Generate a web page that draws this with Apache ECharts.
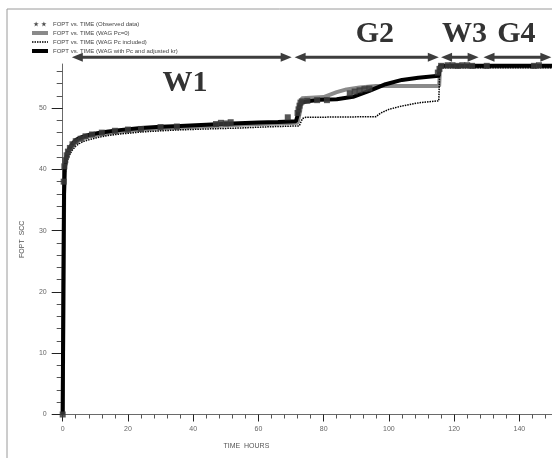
<!DOCTYPE html>
<html>
<head>
<meta charset="utf-8">
<script src="https://cdn.jsdelivr.net/npm/echarts@6/dist/echarts.min.js"></script>
<style>
  html, body { margin: 0; padding: 0; background: #ffffff; }
  #chart { width: 552px; height: 458px; }
</style>
</head>
<body>
<div id="chart"></div>
<script>
// ---- series names ----
const nameObserved = 'FOPT vs. TIME (Observed data)';
const namePc0 = 'FOPT vs. TIME (WAG Pc=0)';
const namePcIncl = 'FOPT vs. TIME (WAG Pc included)';
const namePcKr = 'FOPT vs. TIME (WAG with Pc and adjusted kr)';

// ---- observed production (hours, SCC) ----
const timeObserved = [0, 0.3, 0.5, 0.8, 1.2, 1.6, 2.2, 3, 4, 5.5, 7, 9, 12, 16, 20, 24, 30, 35, 47, 48.5, 50, 51.5, 69,
  72, 72.3, 72.6, 72.9, 73.3, 75, 78, 81, 88, 89.5, 91, 92.5, 94,
  115, 115.5, 116, 118, 119.5, 121, 122.5, 124, 125.5, 130, 144.5, 146];
const foptObserved = [0, 38, 40.5, 41.5, 42.3, 42.9, 43.5, 44.1, 44.6, 45.0, 45.4, 45.7, 46.0, 46.3, 46.5, 46.6, 46.9, 47.0, 47.4, 47.6, 47.5, 47.7, 48.5,
  49.2, 49.8, 50.4, 50.9, 51.1, 51.2, 51.3, 51.3, 52.4, 52.7, 52.9, 53.1, 53.2,
  55.8, 56.4, 56.9, 57.0, 57.0, 56.9, 57.0, 57.0, 56.9, 56.9, 56.9, 57.0];

// ---- WAG Pc=0 ----
const timePc0 = [0, 0.25, 0.45, 0.65, 1, 1.5, 2, 3, 4, 5, 6.5, 8.5, 11, 14, 18, 24, 30, 36, 44, 52, 60, 66, 72,
  72.8, 73.3, 76, 80, 84, 87, 91, 96, 115.4, 115.7, 150];
const foptPc0 = [0, 20, 36, 40, 41.5, 42.5, 43.1, 43.9, 44.5, 44.85, 45.15, 45.45, 45.7, 45.95, 46.2, 46.5, 46.7, 46.85, 47.05, 47.25, 47.4, 47.5, 47.6,
  49.5, 51.6, 51.7, 51.8, 52.6, 53.05, 53.35, 53.6, 53.6, 56.8, 56.8];

// ---- WAG Pc included ----
const timePcIncl = [0, 0.3, 0.55, 0.8, 1.2, 2, 3, 4, 5, 6.5, 8.5, 11, 14, 18, 24, 30, 36, 44, 54, 63, 72.5,
  73.5, 74.5, 85, 96, 97.5, 100, 104, 109, 115.3, 115.6, 150];
const foptPcIncl = [0, 20, 36, 39.5, 41, 42.3, 43.2, 43.8, 44.2, 44.6, 44.9, 45.25, 45.55, 45.8, 46.1, 46.3, 46.45, 46.6, 46.75, 46.95, 47.1,
  48.3, 48.5, 48.55, 48.6, 49.2, 49.8, 50.35, 50.85, 51.2, 56.6, 56.6];

// ---- WAG with Pc and adjusted kr ----
const timePcKr = [0, 0.2, 0.4, 0.6, 1, 1.5, 2, 3, 4, 5, 6.5, 8.5, 11, 14, 18, 24, 30, 36, 44, 52, 60, 66, 71.5,
  72, 72.5, 73.2, 75, 79, 84, 89, 94, 99, 104, 109, 115.3, 115.6, 150];
const foptPcKr = [0, 20, 36, 40, 41.8, 42.8, 43.4, 44.2, 44.8, 45.1, 45.4, 45.7, 45.95, 46.2, 46.45, 46.75, 46.95, 47.1, 47.3, 47.5, 47.65, 47.75, 47.85,
  48.8, 50.3, 50.9, 51.1, 51.35, 51.45, 51.85, 52.8, 53.9, 54.6, 54.95, 55.3, 56.9, 56.9];

// ---- axis ticks ----
const timeMajorTicks = [0, 20, 40, 60, 80, 100, 120, 140];
const timeMinorTicks = [4, 8, 12, 16, 24, 28, 32, 36, 44, 48, 52, 56, 64, 68, 72, 76, 84, 88, 92, 96,
  104, 108, 112, 116, 124, 128, 132, 136, 144, 148];
const foptMajorTicks = [0, 10, 20, 30, 40, 50];
const foptMinorTicks = [2, 4, 6, 8, 12, 14, 16, 18, 22, 24, 26, 28, 32, 34, 36, 38, 42, 44, 46, 48, 52, 54, 56];

// ---- injection periods (hours) ----
const periodNames = ['W1', 'G2', 'W3', 'G4'];
const periodStart = [2.8, 71.1, 116, 129];
const periodEnd = [70.2, 115.3, 127.5, 149.8];

const zip = (xs, ys) => xs.map((x, i) => [x, ys[i]]);

// two small stars for the observed-data legend entry
const twoStars = 'path://M4,0L4.59,1.69L6.38,1.73L4.95,2.81L5.47,4.52L4,3.5L2.53,4.52L3.05,2.81L1.62,1.73L3.41,1.69Z' +
  'M11,0L11.59,1.69L13.38,1.73L11.95,2.81L12.47,4.52L11,3.5L9.53,4.52L10.05,2.81L8.62,1.73L10.41,1.69Z';

const axisGray = '#6a6a6a';
const labelStyle = { fontFamily: 'Liberation Sans', fontSize: 7, color: '#666' };
const noMarker = { color: 'rgba(0,0,0,0)', borderWidth: 0, opacity: 0 };

const chart = echarts.init(document.getElementById('chart'), null, { renderer: 'canvas' });

const option = {
  animation: false,
  backgroundColor: '#ffffff',
  grid: { left: 62.7, right: -1, top: 64, bottom: 43.5, containLabel: false },
  legend: {
    orient: 'vertical',
    left: 30,
    top: 20.5,
    padding: 0,
    itemGap: 2,
    itemWidth: 16,
    itemHeight: 5,
    textStyle: { fontFamily: 'Liberation Sans', fontSize: 6, lineHeight: 7, color: '#444' },
    data: [
      { name: nameObserved, icon: twoStars, itemStyle: { color: '#333' } },
      { name: namePc0, itemStyle: noMarker, lineStyle: { width: 4, color: '#8a8a8a' } },
      { name: namePcIncl, itemStyle: noMarker, lineStyle: { width: 1.5, type: [1.5, 1], color: '#000' } },
      { name: namePcKr, itemStyle: noMarker, lineStyle: { width: 4, color: '#000' } }
    ]
  },
  xAxis: [
    {
      type: 'value', min: 0, max: 150, interval: 20,
      name: 'TIME  HOURS', nameLocation: 'middle', nameGap: 28,
      nameTextStyle: { fontFamily: 'Liberation Sans', fontSize: 7, color: '#555', padding: [0, 122, 0, 0] },
      axisLine: { show: true, onZero: false, lineStyle: { color: axisGray, width: 1 } },
      axisTick: { show: true, length: 7, customValues: timeMajorTicks, lineStyle: { color: '#222', width: 1 } },
      axisLabel: { show: true, margin: 11, customValues: timeMajorTicks, ...labelStyle },
      splitLine: { show: false }
    },
    {
      type: 'value', min: 0, max: 150, interval: 4, position: 'bottom',
      axisLine: { show: false },
      axisTick: { show: true, length: 4, customValues: timeMinorTicks, lineStyle: { color: '#555', width: 1 } },
      axisLabel: { show: false },
      splitLine: { show: false }
    }
  ],
  yAxis: [
    {
      type: 'value', min: 0, max: 57.2, interval: 10,
      name: 'FOPT  SCC', nameLocation: 'middle', nameGap: 37, nameRotate: 90,
      nameTextStyle: { fontFamily: 'Liberation Sans', fontSize: 7, color: '#555' },
      axisLine: { show: true, onZero: false, lineStyle: { color: axisGray, width: 1 } },
      axisTick: { show: true, length: 11, customValues: foptMajorTicks, lineStyle: { color: '#222', width: 1 } },
      axisLabel: { show: true, margin: 16, customValues: foptMajorTicks, ...labelStyle },
      splitLine: { show: false }
    },
    {
      type: 'value', min: 0, max: 57.2, interval: 2, position: 'left',
      axisLine: { show: false },
      axisTick: { show: true, length: 6, customValues: foptMinorTicks, lineStyle: { color: '#555', width: 1 } },
      axisLabel: { show: false },
      splitLine: { show: false }
    }
  ],
  series: [
    {
      name: namePc0, type: 'line', data: zip(timePc0, foptPc0), symbol: 'none', showSymbol: false,
      lineStyle: { width: 4, color: '#8a8a8a' }, itemStyle: { color: '#8a8a8a' }, z: 2
    },
    {
      name: namePcIncl, type: 'line', data: zip(timePcIncl, foptPcIncl), symbol: 'none', showSymbol: false,
      lineStyle: { width: 1.5, type: [1.5, 1], color: '#000' }, itemStyle: { color: '#000' }, z: 3
    },
    {
      name: namePcKr, type: 'line', data: zip(timePcKr, foptPcKr), symbol: 'none', showSymbol: false,
      lineStyle: { width: 4, color: '#000' }, itemStyle: { color: '#000' }, z: 4
    },
    {
      name: nameObserved, type: 'scatter', data: zip(timeObserved, foptObserved),
      symbol: 'star', symbolSize: 6, itemStyle: { color: '#3a3a3a', opacity: 0.85 }, z: 5
    }
  ]
};

chart.setOption(option);

// Period arrows and labels above the curves, placed through the grid's scales
const arrowLevel = 58.3;
const labelTimes = [37.5, 95.7, 123.2, 139.1];
const labelLevels = [54.1, 62.1, 62.1, 62.1];
const arrowColor = '#3d3d3d';
const head = 11, halfW = 4.5;

const graphics = [
  // page frame
  { type: 'line', shape: { x1: 7, y1: 9, x2: 552, y2: 9 }, style: { stroke: '#9a9a9a', lineWidth: 1 }, silent: true },
  { type: 'line', shape: { x1: 7, y1: 9, x2: 7, y2: 458 }, style: { stroke: '#9a9a9a', lineWidth: 1 }, silent: true }
];

periodNames.forEach((name, i) => {
  const p1 = chart.convertToPixel({ gridIndex: 0 }, [periodStart[i], arrowLevel]);
  const p2 = chart.convertToPixel({ gridIndex: 0 }, [periodEnd[i], arrowLevel]);
  const y = p1[1];
  graphics.push({
    type: 'line', silent: true,
    shape: { x1: p1[0] + head - 1, y1: y, x2: p2[0] - head + 1, y2: y },
    style: { stroke: arrowColor, lineWidth: 3 }
  });
  graphics.push({
    type: 'polygon', silent: true,
    shape: { points: [[p1[0], y], [p1[0] + head, y - halfW], [p1[0] + head, y + halfW]] },
    style: { fill: arrowColor }
  });
  graphics.push({
    type: 'polygon', silent: true,
    shape: { points: [[p2[0], y], [p2[0] - head, y - halfW], [p2[0] - head, y + halfW]] },
    style: { fill: arrowColor }
  });
  const lp = chart.convertToPixel({ gridIndex: 0 }, [labelTimes[i], labelLevels[i]]);
  graphics.push({
    type: 'text', silent: true, x: lp[0], y: lp[1],
    style: {
      text: name, fill: '#333', align: 'center', verticalAlign: 'middle',
      font: 'bold 30px "Liberation Serif", "DejaVu Serif", serif'
    }
  });
});

chart.setOption({ graphic: graphics });
</script>
</body>
</html>
